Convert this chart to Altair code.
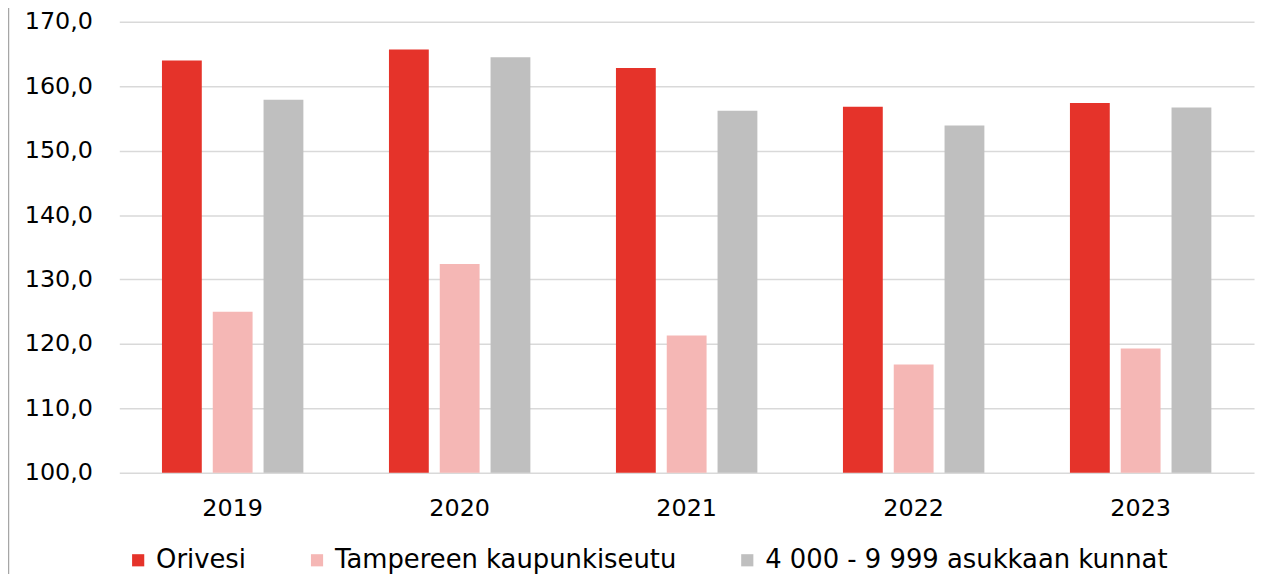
import altair as alt
import pandas as pd

years = ["2019", "2020", "2021", "2022", "2023"]
series = ["Orivesi", "Tampereen kaupunkiseutu", "4 000 - 9 999 asukkaan kunnat"]
orivesi = [164.0, 165.7, 162.8, 156.8, 157.4]
tampere = [125.0, 132.4, 121.3, 116.8, 119.3]
kunnat = [157.9, 164.5, 156.2, 153.9, 156.7]
colors = ["#E5332A", "#F5B7B5", "#BFBFBF"]

rows = []
for name, vals in zip(series, [orivesi, tampere, kunnat]):
    for y, v in zip(years, vals):
        rows.append({"year": y, "series": name, "value": v})
df = pd.DataFrame(rows)

FONT = "DejaVu Sans"
FS = 24
LFS = 26

bars = alt.Chart(df).mark_bar().encode(
    x=alt.X("year:N", sort=years, title=None,
            scale=alt.Scale(paddingInner=0.377, paddingOuter=0.188),
            axis=alt.Axis(labelAngle=0, labelFontSize=FS, labelFont=FONT, labelColor="#000000",
                          labelPadding=24, ticks=False, domain=False, grid=False)),
    xOffset=alt.XOffset("series:N", sort=series,
                        scale=alt.Scale(paddingInner=0.216, paddingOuter=0)),
    y=alt.Y("value:Q", title=None,
            scale=alt.Scale(domain=[100, 170], zero=False, nice=False),
            axis=alt.Axis(values=[100, 110, 120, 130, 140, 150, 160, 170],
                          labelExpr="replace(format(datum.value, '.1f'), '.', ',')",
                          labelFontSize=FS, labelFont=FONT, labelColor="#000000",
                          labelPadding=27, ticks=False, domain=False,
                          grid=True, gridColor="#D9D9D9", gridWidth=1.5)),
    y2=alt.datum(100),
    color=alt.Color("series:N", sort=series,
                    scale=alt.Scale(domain=series, range=colors),
                    legend=alt.Legend(title=None, orient="none", legendX=6, legendY=529,
                                      direction="horizontal", symbolType="square",
                                      symbolSize=150, symbolStrokeWidth=0,
                                      labelFontSize=LFS, labelFont=FONT, labelColor="#000000",
                                      columnPadding=58, labelOffset=5, labelLimit=700)),
)

border = alt.Chart(pd.DataFrame({"a": [0]})).mark_rule(color="#A6A6A6", strokeWidth=1.5).encode(
    x=alt.value(-111.5), y=alt.value(-20), y2=alt.value(580)
)

chart = alt.layer(border, bars).properties(
    width=1142, height=454,
    autosize=alt.AutoSizeParams(type="none"),
    padding={"left": 112, "top": 12, "right": 6, "bottom": 100},
).configure_view(stroke=None)

chart.save("out.html", embed_options={"renderer": "svg", "actions": False})
